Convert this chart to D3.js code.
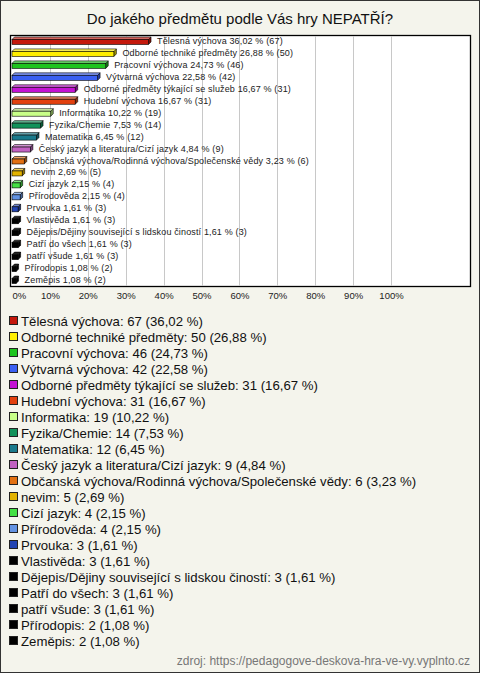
<!DOCTYPE html>
<html><head><meta charset="utf-8">
<script src="https://cdn.jsdelivr.net/npm/d3@7"></script>
<style>body{margin:0;background:#f4f4ec}svg{display:block}</style>
</head><body>
<svg id="c" width="480" height="673"></svg>
<script>
const categories = ["Tělesná výchova","Odborné techniké předměty","Pracovní výchova","Výtvarná výchova","Odborné předměty týkající se služeb","Hudební výchova","Informatika","Fyzika/Chemie","Matematika","Český jazyk a literatura/Cizí jazyk","Občanská výchova/Rodinná výchova/Společenské vědy","nevim","Cizí jazyk","Přírodověda","Prvouka","Vlastivěda","Dějepis/Dějiny související s lidskou čiností","Patří do všech","patří všude","Přírodopis","Zeměpis"];
const counts = [67,50,46,42,31,31,19,14,12,9,6,5,4,4,3,3,3,3,3,2,2];
const percents = [36.02,26.88,24.73,22.58,16.67,16.67,10.22,7.53,6.45,4.84,3.23,2.69,2.15,2.15,1.61,1.61,1.61,1.61,1.61,1.08,1.08];
const colors = ["#c4180c","#ffee00","#1ec41e","#3a5ff2","#c412d4","#e2400e","#c8ff88","#12925a","#1a7a8c","#c262c2","#e27012","#e2b200","#44e044","#6292e2","#2244b2","#000000","#000000","#000000","#000000","#000000","#000000"];
const tickValues = [0,10,20,30,40,50,60,70,80,90,100];
const titleText = "Do jakého předmětu podle Vás hry NEPATŘÍ?";
const sourceText = "zdroj: https://pedagogove-deskova-hra-ve-vy.vyplnto.cz";

const fmt = v => v.toFixed(2).replace(".", ",");
const svg = d3.select("#c");
const font = "'Liberation Sans', Arial, sans-serif";

svg.append("rect").attr("x",0.5).attr("y",0.5).attr("width",479).attr("height",672)
  .attr("fill","#f4f4ec").attr("stroke","#333");

svg.append("text").attr("x",240).attr("y",24).attr("text-anchor","middle")
  .attr("font-family",font).attr("font-size",15).attr("fill","#111").text(titleText);

const x = d3.scaleLinear().domain([0,100]).range([12,391]);
const y = d3.scaleBand().domain(categories).range([35,286]);

svg.append("rect").attr("x",10.5).attr("y",35.5).attr("width",460).attr("height",251)
  .attr("fill","#ffffff").attr("stroke","#000").attr("stroke-width",1.3);

// grid
svg.append("g").selectAll("line").data(tickValues.filter(d=>d>0)).join("line")
  .attr("x1",d=>Math.round(x(d))+0.5).attr("x2",d=>Math.round(x(d))+0.5)
  .attr("y1",36).attr("y2",286).attr("stroke","#c8c8c8");

// tick labels via axis
const ax = svg.append("g").attr("transform","translate(0,291)")
  .call(d3.axisBottom(x).tickValues(tickValues).tickFormat(d=>d+"%").tickSize(0).tickPadding(0));
ax.select(".domain").remove();
ax.selectAll("text").attr("font-family",font).attr("font-size",9.5).attr("fill","#222")
  .attr("dy","0.85em")
  .attr("text-anchor",d=>d===0?"start":"middle");

const lighten = c => d3.interpolateRgb(c,"#ffffff")(0.35);
const darken = c => d3.color(c).darker(1.2).formatHex();

const dpx = 2.5, dpy = 2.5, bh = 5;
const g = svg.append("g");
categories.forEach((cat,i)=>{
  const cy = y(cat)+y.bandwidth()/2;
  const x0 = x(0), x1 = x(percents[i]);
  const top = cy - bh/2 + 1, bot = top + bh;
  const c = colors[i];
  g.append("path").attr("d",`M${x1},${top}L${x1+dpx},${top-dpy}L${x1+dpx},${bot-dpy}L${x1},${bot}Z`)
    .attr("fill",c==="#000000"?"#000":darken(c)).attr("stroke","#000").attr("stroke-width",0.6);
  g.append("path").attr("d",`M${x0},${top}L${x0+dpx},${top-dpy}L${x1+dpx},${top-dpy}L${x1},${top}Z`)
    .attr("fill",c==="#000000"?"#222":lighten(c)).attr("stroke","#000").attr("stroke-width",0.6);
  g.append("rect").attr("x",x0).attr("y",top).attr("width",x1-x0).attr("height",bh)
    .attr("fill",c).attr("stroke","#000").attr("stroke-width",0.6);
  g.append("text").attr("x",x1+dpx+6).attr("y",cy+3)
    .attr("font-family",font).attr("font-size",9).attr("letter-spacing",0.15).attr("fill","#222")
    .text(`${cat} ${fmt(percents[i])} % (${counts[i]})`);
});

// legend
const ly = d3.scaleLinear().domain([0,20]).range([321,641]);
const lg = svg.append("g");
categories.forEach((cat,i)=>{
  const cy = ly(i);
  lg.append("rect").attr("x",9.5).attr("y",cy-4.5).attr("width",8).attr("height",8)
    .attr("fill",colors[i]).attr("stroke","#222").attr("stroke-width",1);
  lg.append("text").attr("x",21).attr("y",cy+4.5)
    .attr("font-family",font).attr("font-size",13.2).attr("fill","#111")
    .text(`${cat}: ${counts[i]} (${fmt(percents[i])} %)`);
});

svg.append("text").attr("x",470).attr("y",665).attr("text-anchor","end")
  .attr("font-family",font).attr("font-size",12).attr("fill","#777").text(sourceText);
</script>
</body></html>
